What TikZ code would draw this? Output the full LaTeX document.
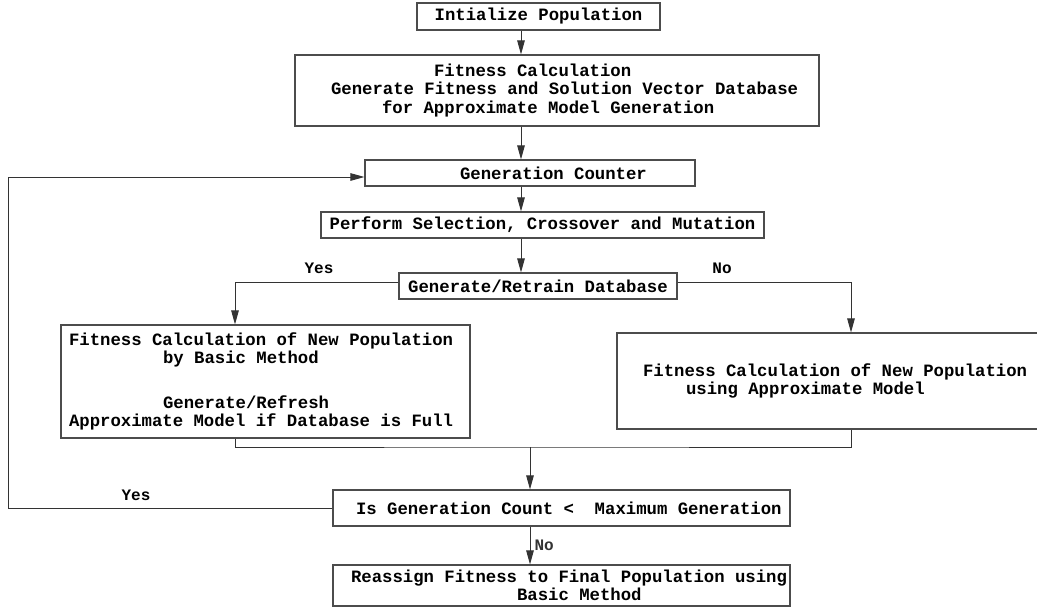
\documentclass[tikz,border=0pt]{standalone}
\usepackage{fontspec}
\setmonofont{Liberation Mono}[WordSpace={1,0,0}]
\usepackage{tikz}
\usetikzlibrary{arrows.meta, positioning}
\tikzset{
  blk/.style={rectangle, draw=black!70, fill=white, line width=1.1pt,
              inner sep=0pt, font=\ttfamily\bfseries\fontsize{17.3}{18.4}\selectfont,
              execute at begin node={\spaceskip=0.6em\xspaceskip=0.6em\relax}},
  ln/.style={line width=1pt, black!80},
  arr/.style={ln, -{Triangle[length=14pt, width=7.5pt]}},
  lbl/.style={font=\ttfamily\bfseries\fontsize{16}{17}\selectfont, inner sep=0pt},
}

\begin{document}
\begin{tikzpicture}[x=1pt, y=-1pt]
  \path[use as bounding box] (0,0) rectangle (1037,613);
  \clip (0,0) rectangle (1037,613);
  \coordinate (spine) at (521,0);
  \coordinate (ycol) at (235,0);
  \coordinate (loopx) at (8,0);
  \coordinate (merge) at (530,447);
  \node[blk, minimum width=243pt, minimum height=27pt, align=center] (init) at (538.5,16.5) {Intialize Population};
  \node[blk, text width=524pt, minimum height=71pt, align=left] (fitc) at (557,90.5)
    {\hspace*{139pt}Fitness Calculation\\ \hspace*{36pt}Generate Fitness and Solution Vector Database\\ \hspace*{87pt}for Approximate Model Generation};
  \node[blk, text width=330pt, minimum height=26pt, align=left] (gen) at (530,173) {\hspace*{95pt}Generation Counter};
  \node[blk, minimum width=443pt, minimum height=26pt, align=center] (sel) at (542.5,225) {Perform Selection, Crossover and Mutation};
  \node[blk, minimum width=278pt, minimum height=26pt, align=center] (retrain) at (538,286) {Generate/Retrain Database};
  \node[blk, text width=409pt, minimum height=113pt, align=left] (basic) at (265.5,381.5)
    {\hspace*{8pt}Fitness Calculation of New Population\\ \hspace*{102pt}by Basic Method\\[26pt] \hspace*{102pt}Generate/Refresh\\ \hspace*{8pt}Approximate Model if Database is Full};
  \node[blk, text width=468pt, minimum height=96pt, align=left] (approx) at (851,381)
    {\hspace*{26pt}Fitness Calculation of New Population\\ \hspace*{69pt}using Approximate Model};
  \node[blk, text width=457pt, minimum height=36pt, align=left] (check) at (561.5,508)
    {\hspace*{23pt}Is Generation Count < \ Maximum Generation};
  \node[blk, text width=457pt, minimum height=41pt, align=left] (final) at (561.5,585.5)
    {\hspace*{18pt}Reassign Fitness to Final Population using\\ \hspace*{184pt}Basic Method};
  \node[lbl] (yes1) at (319,268) {Yes};
  \node[lbl] (no1) at (722,268) {No};
  \node[lbl] (yes2) at (136,495) {Yes};
  \draw[arr] (init.south -| spine) -- (fitc.north -| spine);
  \draw[arr] (fitc.south -| spine) -- (gen.north -| spine);
  \draw[arr] (gen.south -| spine) -- (sel.north -| spine);
  \draw[arr] (sel.south -| spine) -- (retrain.north -| spine);
  \draw[arr] ([yshift=4pt]retrain.west) -| (basic.north -| ycol);
  \draw[arr] ([yshift=4pt]retrain.east) -| (approx.north);
  \draw[ln] (basic.south -| ycol) |- (merge) -| (approx.south);
  \draw[arr] (merge) -- (check.north -| merge);
  \draw[arr] (check.west) -- (check.west -| loopx) |- ([yshift=-4pt]gen.west);
  \draw[arr] (check.south -| merge) -- (final.north -| merge)
    node[lbl, midway, right=4pt] (no2) {No};
\end{tikzpicture}
\end{document}
